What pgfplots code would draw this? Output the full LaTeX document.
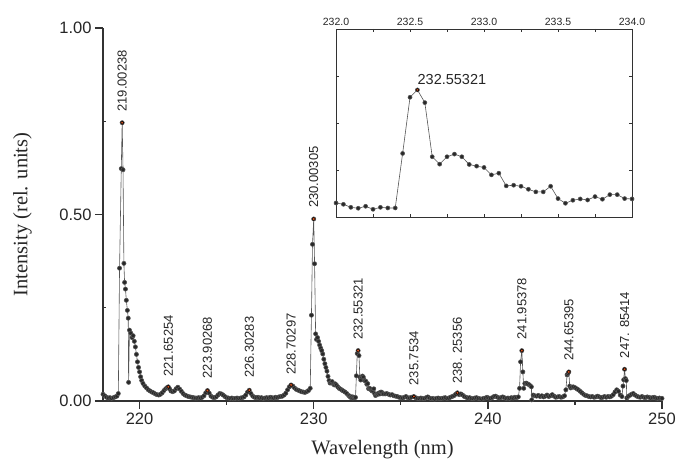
\documentclass[border=0pt]{standalone}
\usepackage{fontspec}
\setmainfont{Liberation Serif}
\setsansfont{Liberation Sans}
\usepackage{pgfplots}
\usepackage{pgfplotstable}
\pgfplotsset{compat=1.18}
\definecolor{peak}{RGB}{222,84,30}
\definecolor{dot}{RGB}{40,40,40}
\definecolor{ln}{RGB}{85,85,85}
\definecolor{ax}{RGB}{50,50,50}

\pgfplotstableread{
x y
217.90 0.018
218.00 0.014
218.10 0.010
218.20 0.008
218.30 0.009
218.40 0.007
218.50 0.009
218.60 0.011
218.70 0.013
218.78 0.020
218.85 0.356
218.95 0.623
219.00 0.746
219.05 0.620
219.10 0.369
219.14 0.318
219.19 0.300
219.24 0.270
219.30 0.243
219.35 0.222
219.37 0.050
219.42 0.190
219.50 0.182
219.57 0.170
219.63 0.175
219.70 0.160
219.76 0.145
219.82 0.125
219.88 0.105
219.94 0.090
220.00 0.078
220.06 0.065
220.12 0.055
220.20 0.047
220.30 0.040
220.40 0.035
220.50 0.030
220.60 0.027
220.70 0.024
220.80 0.022
220.90 0.019
221.00 0.017
221.10 0.016
221.20 0.018
221.30 0.022
221.40 0.028
221.50 0.033
221.58 0.036
221.65 0.038
221.72 0.033
221.80 0.027
221.90 0.025
222.00 0.027
222.10 0.033
222.20 0.037
222.30 0.032
222.40 0.026
222.50 0.020
222.60 0.016
222.70 0.014
222.80 0.012
222.90 0.011
223.00 0.010
223.10 0.009
223.20 0.008
223.30 0.008
223.40 0.009
223.50 0.008
223.60 0.010
223.70 0.014
223.80 0.022
223.90 0.028
224.00 0.021
224.10 0.013
224.20 0.010
224.30 0.009
224.40 0.011
224.50 0.016
224.60 0.020
224.70 0.019
224.80 0.016
224.90 0.012
225.00 0.009
225.10 0.008
225.20 0.007
225.30 0.008
225.40 0.006
225.50 0.007
225.60 0.008
225.70 0.007
225.80 0.008
225.90 0.009
226.00 0.011
226.10 0.016
226.20 0.024
226.30 0.029
226.40 0.020
226.50 0.013
226.60 0.010
226.70 0.009
226.80 0.010
226.90 0.008
227.00 0.009
227.10 0.007
227.20 0.008
227.30 0.009
227.40 0.008
227.50 0.010
227.60 0.009
227.70 0.008
227.80 0.010
227.90 0.009
228.00 0.011
228.10 0.012
228.20 0.013
228.30 0.016
228.40 0.021
228.50 0.030
228.60 0.038
228.70 0.043
228.80 0.040
228.90 0.035
229.00 0.031
229.10 0.029
229.20 0.027
229.30 0.025
229.40 0.024
229.50 0.023
229.60 0.025
229.70 0.028
229.80 0.034
229.87 0.230
229.93 0.420
230.00 0.488
230.05 0.368
230.11 0.180
230.16 0.165
230.22 0.170
230.28 0.160
230.34 0.150
230.40 0.142
230.46 0.135
230.52 0.126
230.58 0.112
230.64 0.100
230.70 0.090
230.76 0.080
230.82 0.066
230.88 0.055
230.94 0.048
231.00 0.050
231.06 0.052
231.12 0.046
231.18 0.043
231.24 0.046
231.30 0.043
231.38 0.038
231.46 0.034
231.54 0.032
231.62 0.029
231.70 0.027
231.80 0.024
231.90 0.020
232.00 0.0149
232.05 0.0135
232.10 0.0103
232.15 0.0093
232.20 0.0114
232.25 0.0082
232.30 0.0103
232.35 0.0096
232.40 0.0096
232.45 0.0676
232.50 0.1274
232.55 0.1352
232.60 0.1217
232.65 0.0641
232.70 0.0562
232.75 0.0641
232.80 0.0669
232.85 0.0641
232.90 0.0559
232.95 0.0541
233.00 0.0527
233.05 0.0448
233.10 0.0466
233.15 0.0331
233.20 0.0338
233.25 0.0327
233.30 0.0295
233.35 0.0267
233.40 0.0267
233.45 0.0327
233.50 0.0196
233.55 0.0146
233.60 0.0178
233.65 0.0192
233.70 0.0181
233.75 0.0217
233.80 0.0189
233.85 0.0238
233.90 0.0238
233.95 0.0196
234.00 0.0192
234.10 0.019
234.20 0.020
234.30 0.018
234.40 0.016
234.50 0.017
234.60 0.014
234.70 0.013
234.80 0.012
234.90 0.010
235.00 0.009
235.10 0.008
235.20 0.010
235.30 0.012
235.40 0.009
235.50 0.008
235.60 0.010
235.75 0.012
235.85 0.009
235.95 0.007
236.05 0.006
236.15 0.008
236.25 0.007
236.35 0.006
236.45 0.009
236.55 0.011
236.65 0.008
236.75 0.006
236.85 0.007
236.95 0.005
237.05 0.007
237.15 0.008
237.25 0.006
237.35 0.007
237.45 0.008
237.55 0.009
237.65 0.007
237.75 0.008
237.85 0.010
237.95 0.012
238.05 0.014
238.15 0.018
238.25 0.022
238.35 0.017
238.45 0.019
238.55 0.016
238.65 0.012
238.75 0.010
238.85 0.008
238.95 0.009
239.05 0.007
239.15 0.006
239.25 0.008
239.35 0.009
239.45 0.007
239.55 0.006
239.65 0.005
239.75 0.007
239.85 0.008
239.95 0.010
240.05 0.008
240.15 0.007
240.25 0.009
240.35 0.012
240.45 0.013
240.55 0.010
240.65 0.008
240.75 0.009
240.85 0.011
240.95 0.009
241.05 0.007
241.15 0.008
241.25 0.007
241.35 0.009
241.45 0.008
241.55 0.010
241.65 0.009
241.75 0.011
241.82 0.034
241.88 0.105
241.95 0.135
242.01 0.078
242.06 0.034
242.12 0.047
242.20 0.048
242.28 0.046
242.36 0.044
242.44 0.041
242.50 0.038
242.52 0.003
242.60 0.016
242.70 0.014
242.80 0.013
242.90 0.015
243.00 0.012
243.10 0.014
243.20 0.011
243.30 0.013
243.40 0.016
243.50 0.012
243.60 0.014
243.70 0.017
243.80 0.013
243.90 0.010
244.00 0.011
244.10 0.012
244.20 0.010
244.30 0.011
244.40 0.014
244.48 0.030
244.55 0.070
244.60 0.074
244.65 0.078
244.70 0.040
244.76 0.035
244.82 0.037
244.90 0.038
245.00 0.036
245.10 0.033
245.20 0.030
245.30 0.026
245.40 0.022
245.50 0.018
245.60 0.015
245.70 0.014
245.80 0.012
245.90 0.011
246.00 0.012
246.10 0.010
246.20 0.011
246.30 0.013
246.40 0.011
246.50 0.009
246.60 0.010
246.70 0.012
246.80 0.010
246.90 0.012
247.00 0.011
247.10 0.013
247.20 0.017
247.30 0.024
247.40 0.030
247.50 0.026
247.60 0.016
247.70 0.012
247.76 0.040
247.80 0.057
247.85 0.085
247.90 0.060
247.95 0.055
247.98 0.008
248.05 0.012
248.15 0.015
248.25 0.018
248.35 0.020
248.45 0.016
248.55 0.013
248.65 0.011
248.75 0.010
248.85 0.012
248.95 0.010
249.05 0.009
249.15 0.011
249.25 0.010
249.35 0.008
249.45 0.009
249.55 0.010
249.65 0.008
249.75 0.007
249.85 0.008
249.95 0.007
250.00 0.007
}\spectrum

\pgfplotstableread{
x y
219.00 0.746
221.65 0.038
223.90 0.028
226.30 0.029
228.70 0.043
230.00 0.488
232.55 0.1352
235.75 0.012
238.25 0.022
241.95 0.135
244.65 0.078
247.85 0.085
}\peaks

\begin{document}
\begin{tikzpicture}
\begin{axis}[
  at={(103pt,60pt)}, anchor=south west,
  scale only axis, width=559pt, height=373pt,
  xmin=217.9, xmax=250, ymin=0, ymax=1,
  axis lines=left, axis line style={-, line width=1.5pt, color=ax},
  clip=false,
  tick align=outside, major tick length=8pt,
  tick style={line width=1.3pt, color=ax},
  xtick={220,230,240,250}, ytick={0,0.5,1},
  extra x ticks={225,235,245}, extra x tick labels={},
  extra x tick style={major tick length=4pt},
  extra y ticks={0.25,0.75}, extra y tick labels={},
  extra y tick style={tick align=inside, major tick length=3pt, tick style={line width=0.8pt}},
  /pgf/number format/assume math mode=true,
  yticklabel style={/pgf/number format/.cd, fixed, fixed zerofill, precision=2},
  xticklabel style={/pgf/number format/.cd, 1000 sep={}},
  ticklabel style={font=\sffamily\fontsize{16.5}{16.5}\selectfont, color=black!85},
  xlabel={Wavelength (nm)}, ylabel={Intensity (rel. units)},
  label style={font=\rmfamily\fontsize{20.5}{20.5}\selectfont, color=black!85},
  xlabel style={at={(axis description cs:0.5,-0.105)}, anchor=north, inner sep=0pt},
  ylabel style={at={(axis description cs:-0.161,0.5)}, anchor=north, inner sep=0pt},
]
\addplot[color=ln, line width=0.6pt, mark=*, mark size=2.1pt,
  mark options={draw=none, fill=dot}] table[x=x,y=y]{\spectrum};
\addplot[only marks, mark=*, mark size=1.6pt, mark options={draw=none, fill=peak}]
  table[x=x,y=y]{\peaks};
\begin{scope}[every node/.style={rotate=90, anchor=west, inner sep=0pt,
   font=\sffamily\fontsize{13}{13}\selectfont, color=black!85}]
\node at ([yshift=11pt]axis cs:219.00,0.746) {219.00238};
\node at ([yshift=10pt]axis cs:221.65,0.038) {221.65254};
\node at ([yshift=12pt]axis cs:223.90,0.028) {223.90268};
\node at ([yshift=12pt]axis cs:226.30,0.029) {226.30283};
\node at ([yshift=10pt]axis cs:228.70,0.043) {228.70297};
\node at ([yshift=11pt]axis cs:230.00,0.488) {230.00305};
\node at ([yshift=12pt]axis cs:232.55,0.132) {232.55321};
\node at ([yshift=11pt]axis cs:235.75,0.012) {235.7534};
\node at ([yshift=9pt]axis cs:238.25,0.022) {238. 25356};
\node at ([yshift=11pt]axis cs:241.95,0.135) {241.95378};
\node at ([yshift=11pt]axis cs:244.65,0.078) {244.65395};
\node at ([yshift=11pt]axis cs:247.85,0.085) {247. 85414};
\end{scope}
\end{axis}

\begin{axis}[
  at={(336pt,244pt)}, anchor=south west,
  scale only axis, width=296pt, height=188pt,
  xmin=232, xmax=234, ymin=0, ymax=0.2,
  axis background/.style={fill=white},
  axis line style={line width=0.9pt, color=ax},
  tick align=inside, major tick length=3pt, minor tick length=3pt,
  tick style={line width=0.7pt, color=ax},
  xtick={232,232.5,233,233.5,234},
  minor xtick={232.25,232.75,233.25,233.75},
  ytick={0.05,0.1,0.15}, yticklabels={},
  xticklabel pos=upper,
  /pgf/number format/assume math mode=true,
  xticklabel style={/pgf/number format/.cd, fixed, fixed zerofill, precision=1, 1000 sep={}},
  ticklabel style={font=\sffamily\fontsize{10.5}{10.5}\selectfont, color=black!85},
]
\addplot[color=ln, line width=0.6pt, mark=*, mark size=2pt,
  mark options={draw=none, fill=dot}] table[x=x,y=y]{\spectrum};
\addplot[only marks, mark=*, mark size=1.4pt, mark options={draw=none, fill=peak}]
  table[x=x,y=y]{\peaks};
\node[anchor=south west, inner sep=0pt, yshift=5pt,
  font=\sffamily\fontsize{14.5}{14.5}\selectfont, color=black!85]
  at (axis cs:232.55,0.1352) {232.55321};
\end{axis}
\pgfresetboundingbox
\useasboundingbox (0,0) rectangle (678pt,461pt);
\end{tikzpicture}
\end{document}
